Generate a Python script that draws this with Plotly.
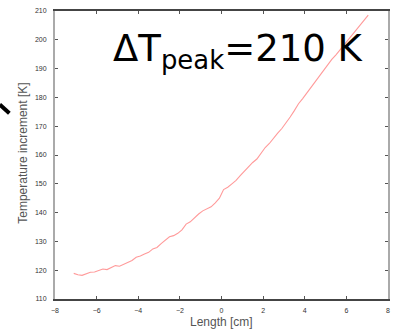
import plotly.graph_objects as go

length_cm = [-7.1, -6.9, -6.7, -6.5, -6.3, -6.1, -5.9, -5.7, -5.5, -5.3, -5.1, -4.9,
             -4.7, -4.5, -4.3, -4.1, -3.9, -3.7, -3.5, -3.3, -3.1, -2.9, -2.7, -2.5,
             -2.3, -2.1, -1.9, -1.7, -1.5, -1.3, -1.1, -0.9, -0.7, -0.5, -0.3, -0.1,
             0.1, 0.3, 0.5, 0.7, 0.9, 1.1, 1.3, 1.5, 1.7, 1.9, 2.1, 2.3,
             2.5, 2.7, 2.9, 3.1, 3.3, 3.5, 3.7, 3.9, 4.1, 4.3, 4.5, 4.7,
             4.9, 5.1, 5.3, 5.5, 5.7, 5.9, 6.1, 6.3, 6.5, 6.7, 6.9, 7.05]
temp_increment = [118.9, 118.4, 118.2, 118.8, 119.3, 119.4, 119.8, 120.4, 120.2, 121.0, 121.6, 121.4,
                  122.0, 122.6, 123.4, 124.5, 124.9, 125.6, 126.2, 127.4, 127.9, 129.2, 130.4, 131.6,
                  132.0, 132.8, 134.0, 136.0, 136.8, 138.2, 139.5, 140.6, 141.2, 142.0, 143.4, 145.0,
                  148.0, 148.8, 150.0, 151.2, 152.8, 154.4, 156.0, 157.4, 158.6, 160.8, 162.6, 164.0,
                  165.9, 167.6, 169.2, 171.0, 173.2, 175.4, 177.8, 179.6, 181.6, 183.4, 185.6, 187.4,
                  189.4, 191.2, 193.2, 194.8, 196.6, 198.6, 200.4, 201.8, 203.8, 205.6, 207.2, 208.6]

x_ticks = [-8, -6, -4, -2, 0, 2, 4, 6, 8]
y_ticks = [110, 120, 130, 140, 150, 160, 170, 180, 190, 200, 210]
x_title = "Length [cm]"
y_title = "Temperature increment [K]"
peak_label = "ΔT<sub>peak</sub>=210 K"

fig = go.Figure()
fig.add_trace(go.Scatter(x=length_cm, y=temp_increment, mode="lines",
                         line=dict(color="#ff9a9a", width=1.1), showlegend=False))

tickfont = dict(family="Liberation Sans", size=7, color="#333")
fig.update_layout(
    width=397, height=331,
    margin=dict(l=55, r=7, t=10, b=32),
    paper_bgcolor="white", plot_bgcolor="white",
    xaxis=dict(range=[-8.0001, 8.0001], tickvals=x_ticks, ticks="inside", ticklen=3,
               tickcolor="#555", showline=True, linecolor="#444", linewidth=1.5,
               mirror="ticks", showgrid=False, zeroline=False, tickfont=tickfont,
               ticklabelstandoff=4, ticklabeloverflow="allow"),
    yaxis=dict(range=[110, 210], tickvals=y_ticks, ticks="inside", ticklen=3,
               tickcolor="#555", showline=True, linecolor="#aaa", linewidth=2,
               mirror="ticks", showgrid=False, zeroline=False, tickfont=tickfont,
               ticklabelstandoff=5),
)

titlefont = dict(family="Liberation Sans", size=12, color="#555")
fig.add_annotation(x=0.5, y=-0.0796, xref="paper", yref="paper", xanchor="center",
                   yanchor="middle", showarrow=False, text=x_title, font=titlefont)
fig.add_annotation(x=-0.0985, y=0.505, xref="paper", yref="paper", xanchor="center",
                   yanchor="middle", showarrow=False, text=y_title, textangle=-90,
                   font=titlefont)

fig.add_annotation(x=0.167, y=0.86, xref="paper", yref="paper", xanchor="left",
                   yanchor="middle", showarrow=False, text=peak_label,
                   font=dict(family="DejaVu Sans", size=37, color="black"))

fig.add_shape(type="line", xref="paper", yref="paper",
              x0=-0.166, y0=0.675, x1=-0.137, y1=0.645,
              line=dict(color="black", width=4))

fig.write_html("out.html", config={"displayModeBar": False},
               post_script="document.body.style.margin='0';document.body.style.overflow='hidden';")
